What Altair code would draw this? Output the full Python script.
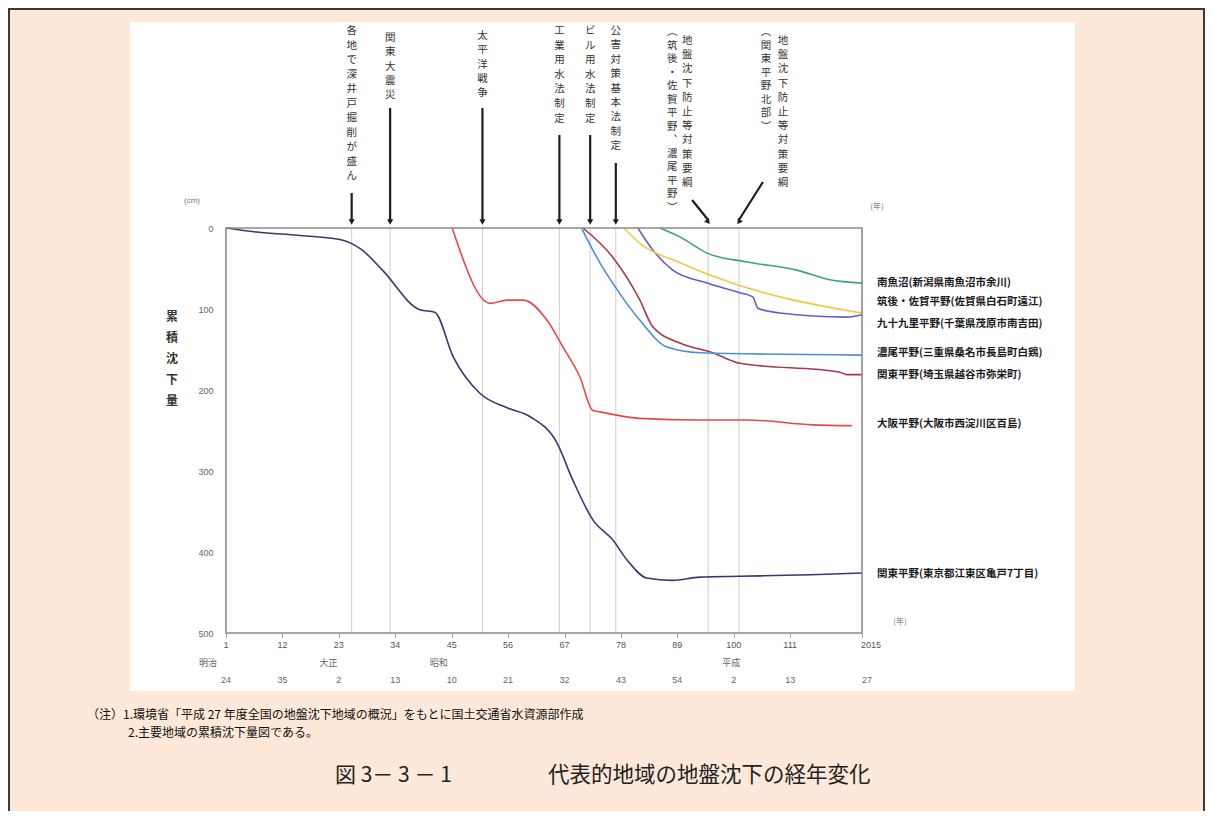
import math
import altair as alt
import pandas as pd

# ---------------- data ----------------
tokyo_year = [1891, 1897, 1905, 1913, 1917.5, 1921.5, 1928.8, 1931.7, 1935.3, 1940.5, 1945.8, 1950.3,
              1955.5, 1958.6, 1962.5, 1966.4, 1969.2, 1973, 1978, 1983.4, 1991, 2005, 2015]
tokyo_cm = [0, 5, 9, 14, 27, 52, 101, 104, 159, 204, 222, 233, 265, 311, 360, 385, 410, 432, 435, 431,
            430, 428, 426]

osaka_year = [1935.1, 1942.5, 1945.8, 1948.9, 1953.6, 1956.7, 1960, 1962.5, 1963.9, 1971.7, 1983.4,
              1992.6, 2005.4, 2013]
osaka_cm = [0, 93, 89, 89, 114, 147, 184, 225, 227, 235, 237, 237, 243, 244]

saitama_year = [1960.6, 1966.4, 1971.7, 1974.2, 1979.5, 1985.9, 1991.2, 2010.7, 2012, 2015]
saitama_cm = [0, 36, 89, 122, 142, 154, 167, 178, 181, 181]

nobi_year = [1960.4, 1963.9, 1966.4, 1971.7, 1977, 1983.4, 2015]
nobi_cm = [1, 43, 68, 114, 147, 154, 157]

kujukuri_year = [1971.3, 1974.2, 1978.1, 1984.8, 1991.2, 1993.7, 1994.7, 1999, 2012, 2015]
kujukuri_cm = [0, 27, 52, 68, 80, 85, 99, 105, 110, 107]

chikugo_year = [1968.6, 1971.7, 1979.5, 1989.2, 1999, 2015]
chikugo_cm = [0, 19, 43, 67, 85, 105]

uonuma_year = [1975.6, 1979.5, 1984.8, 1992.6, 2002.3, 2008.7, 2015]
uonuma_cm = [0, 11, 31, 42, 52, 64, 68]

series_names = [
    "関東平野(東京都江東区亀戸7丁目)",
    "大阪平野(大阪市西淀川区百島)",
    "関東平野(埼玉県越谷市弥栄町)",
    "濃尾平野(三重県桑名市長島町白鶏)",
    "九十九里平野(千葉県茂原市南吉田)",
    "筑後・佐賀平野(佐賀県白石町遠江)",
    "南魚沼(新潟県南魚沼市余川)",
]
series_years = [tokyo_year, osaka_year, saitama_year, nobi_year, kujukuri_year, chikugo_year, uonuma_year]
series_values = [tokyo_cm, osaka_cm, saitama_cm, nobi_cm, kujukuri_cm, chikugo_cm, uonuma_cm]
series_colors = ["#363b6e", "#e5484d", "#a23a4e", "#4c8fd3", "#6a5cc4", "#f2c84b", "#3aa86c"]
label_anchor_cm = [427, 242, 181.5, 154, 118.5, 91, 68]

tick_years = [1891, 1902, 1913, 1924, 1935, 1946, 1957, 1968, 1979, 1990, 2001, 2015]
tick_labels = ["1", "12", "23", "34", "45", "56", "67", "78", "89", "100", "111", "2015"]
era_year_labels = ["24", "35", "2", "13", "10", "21", "32", "43", "54", "2", "13", "27"]
era_names = ["明治", "大正", "昭和", "平成"]
era_name_years = [1887.5, 1911, 1932.5, 1989.5]

y_ticks = [0, 100, 200, 300, 400, 500]

event_years = [1915.5, 1923, 1941, 1956, 1962, 1967, 1985, 1991]
event_main = ["各地で深井戸掘削が盛ん", "関東大震災", "太平洋戦争", "工業用水法制定", "ビル用水法制定",
              "公害対策基本法制定", "地盤沈下防止等対策要綱", "地盤沈下防止等対策要綱"]
event_sub = ["", "", "", "", "", "", "（筑後・佐賀平野、濃尾平野）", "（関東平野北部）"]

# ---------------- layout ----------------
JP = "Noto Sans CJK JP"
W, H = 636, 405
X0, Y0 = 226, 228
PX_PER_YEAR = W / (2015 - 1891)

main_top = [26, 33, 31, 26, 26, 26, 36, 36]
main_dx = [0, 0, 0, 0, 0, 0, -21, 44]
main_lh = [14.5, 14.3, 14.3, 14.6, 14.6, 14.4, 14.2, 14.2]
sub_dx = [0, 0, 0, 0, 0, 0, -36, 27]
arrow_top = [193, 108, 108, 135, 135, 163, 200, 182]
arrow_start_dx = [0, 0, 0, 0, 0, 0, -16, 24]
arrow_end = 220

xs = alt.Scale(domain=[1891, 2015], nice=False, zero=False)
ys = alt.Scale(domain=[0, 500], reverse=True, nice=False)
xaxis = alt.Axis(values=tick_years, labels=False, tickSize=4, tickColor="#9a9a9a", domain=False,
                 grid=False, title="", zindex=2)
yaxis = alt.Axis(values=y_ticks, labelFontSize=9, labelColor="#666666", ticks=False, labelPadding=13,
                 domain=False, grid=False, title="", labelFont="Liberation Sans", zindex=2)


def vx(p):
    return alt.value(p - X0)


def vy(p):
    return alt.value(p - Y0)


def X(field):
    return alt.X(field, scale=xs, axis=xaxis)


def vert(s):
    table = {"（": "︵", "）": "︶", "、": "︑"}
    return "\n".join(table.get(c, c) for c in s)


def free_text(t, x, y, **kw):
    return alt.Chart(pd.DataFrame({"t": [t]})).mark_text(**kw).encode(x=vx(x), y=vy(y), text="t:N")


layers = []

# page frame and white chart sheet
layers.append(alt.Chart(pd.DataFrame({"a": [0]})).mark_rect(fill="#fde9d9", stroke="#3a3a3a", strokeWidth=2)
              .encode(x=vx(9), x2=vx(1204), y=vy(9), y2=vy(850)))
layers.append(alt.Chart(pd.DataFrame({"a": [0]})).mark_rect(fill="#ffffff")
              .encode(x=vx(130), x2=vx(1075), y=vy(22), y2=vy(691)))

# event guide lines inside the plot
ev_df = pd.DataFrame({"year": event_years})
layers.append(alt.Chart(ev_df).mark_rule(color="#cdcdcd", strokeWidth=1)
              .encode(x=X("year:Q"), y=alt.value(0), y2=alt.value(H)))

# series
rows = []
for n, yrs, vals in zip(series_names, series_years, series_values):
    for a, b in zip(yrs, vals):
        rows.append({"name": n, "year": a, "cm": b})
sdf = pd.DataFrame(rows)
layers.append(alt.Chart(sdf).mark_line(strokeWidth=1.6, interpolate="monotone").encode(
    x=X("year:Q"),
    y=alt.Y("cm:Q", scale=ys, axis=yaxis),
    color=alt.Color("name:N", scale=alt.Scale(domain=series_names, range=series_colors), legend=None),
))

# plot frame
layers.append(alt.Chart(pd.DataFrame({"a": [0]})).mark_rect(fillOpacity=0, stroke="#8a8a8a", strokeWidth=1.6)
              .encode(x=alt.value(0), x2=alt.value(W), y=alt.value(0), y2=alt.value(H)))

# right-hand series labels
ldf = pd.DataFrame({"name": series_names, "year": [2015] * len(series_names), "cm": label_anchor_cm})
layers.append(alt.Chart(ldf).mark_text(align="left", baseline="middle", dx=15, fontSize=10.5,
                                       fontWeight="bold", color="#1a1a1a", font=JP)
              .encode(x=X("year:Q"), y=alt.Y("cm:Q", scale=ys, axis=yaxis), text="name:N"))

# x tick label rows
tdf = pd.DataFrame({"year": tick_years[:-1], "lab": tick_labels[:-1], "era": era_year_labels[:-1]})
layers.append(alt.Chart(tdf).mark_text(fontSize=9, color="#555555", baseline="middle", font="Liberation Sans")
              .encode(x=X("year:Q"), y=alt.value(H + 12), text="lab:N"))
layers.append(alt.Chart(tdf).mark_text(fontSize=9, color="#666666", baseline="middle", font="Liberation Sans")
              .encode(x=X("year:Q"), y=alt.value(H + 47), text="era:N"))
last = pd.DataFrame({"year": tick_years[-1:], "lab": tick_labels[-1:], "era": era_year_labels[-1:]})
layers.append(alt.Chart(last).mark_text(fontSize=9, color="#555555", baseline="middle", dx=9, font="Liberation Sans")
              .encode(x=X("year:Q"), y=alt.value(H + 12), text="lab:N"))
layers.append(alt.Chart(last).mark_text(fontSize=9, color="#666666", baseline="middle", dx=5, font="Liberation Sans")
              .encode(x=X("year:Q"), y=alt.value(H + 47), text="era:N"))
edf = pd.DataFrame({"year": era_name_years, "name": era_names})
layers.append(alt.Chart(edf).mark_text(fontSize=9, color="#666666", baseline="middle", font=JP)
              .encode(x=X("year:Q"), y=alt.value(H + 30), text="name:N"))

# event labels and arrows
for i, yr in enumerate(event_years):
    d = pd.DataFrame({"year": [yr], "t": [vert(event_main[i])]})
    layers.append(alt.Chart(d).mark_text(align="center", baseline="top", lineBreak="\n", lineHeight=main_lh[i],
                                         fontSize=10.5, color="#333333", dx=main_dx[i], font=JP)
                  .encode(x=X("year:Q"), y=vy(main_top[i]), text="t:N"))
    if event_sub[i]:
        d2 = pd.DataFrame({"year": [yr], "t": [vert(event_sub[i])]})
        layers.append(alt.Chart(d2).mark_text(align="center", baseline="top", lineBreak="\n", lineHeight=13.5,
                                              fontSize=10.5, color="#333333", dx=sub_dx[i], font=JP)
                      .encode(x=X("year:Q"), y=vy(27), text="t:N"))
    start_year = yr + arrow_start_dx[i] / PX_PER_YEAR
    ad = pd.DataFrame({"y0": [start_year], "y1": [yr]})
    layers.append(alt.Chart(ad).mark_rule(color="#1e1e1e", strokeWidth=2.2)
                  .encode(x=X("y0:Q"), x2="y1:Q", y=vy(arrow_top[i]), y2=vy(arrow_end)))
    dxp = -arrow_start_dx[i]
    dyp = arrow_end - arrow_top[i]
    ang = (-math.degrees(math.atan2(dxp, dyp))) % 360
    layers.append(alt.Chart(ad).mark_point(shape="triangle-down", filled=True, size=38, color="#1e1e1e", opacity=1)
                  .encode(x=X("y1:Q"), y=vy(arrow_end + 2), angle=alt.value(ang)))

# units and axis title
layers.append(free_text("(cm)", 192, 201, fontSize=8, color="#777777", font="Liberation Sans"))
layers.append(free_text("(年)", 877, 207, fontSize=8, color="#777777", font=JP))
layers.append(free_text("(年)", 900, 622, fontSize=8, color="#777777", font=JP))
layers.append(free_text(vert("累積沈下量"), 172, 312, fontSize=12, fontWeight="bold", color="#333333",
                        baseline="top", lineBreak="\n", lineHeight=21, font=JP))

# notes and figure title
layers.append(free_text("（注）1.環境省「平成 27 年度全国の地盤沈下地域の概況」をもとに国土交通省水資源部作成", 87, 715,
                        fontSize=12, align="left", baseline="middle", color="#111111", font=JP))
layers.append(free_text("2.主要地域の累積沈下量図である。", 128, 733,
                        fontSize=12, align="left", baseline="middle", color="#111111", font=JP))
layers.append(free_text("図 3－ 3 － 1", 335, 776, fontSize=21, align="left", baseline="middle",
                        color="#222222", font=JP))
layers.append(free_text("代表的地域の地盤沈下の経年変化", 548, 776, fontSize=21.5, align="left",
                        baseline="middle", color="#222222", font=JP))

chart = alt.layer(*layers).properties(
    width=W, height=H,
    padding={"left": 218, "top": 220, "right": 343, "bottom": 178},
    autosize=alt.AutoSizeParams(type="none"),
).configure(background="#fde9d9", font=JP).configure_view(strokeWidth=0)

chart.save("out.html", embed_options={"renderer": "svg", "actions": False})
